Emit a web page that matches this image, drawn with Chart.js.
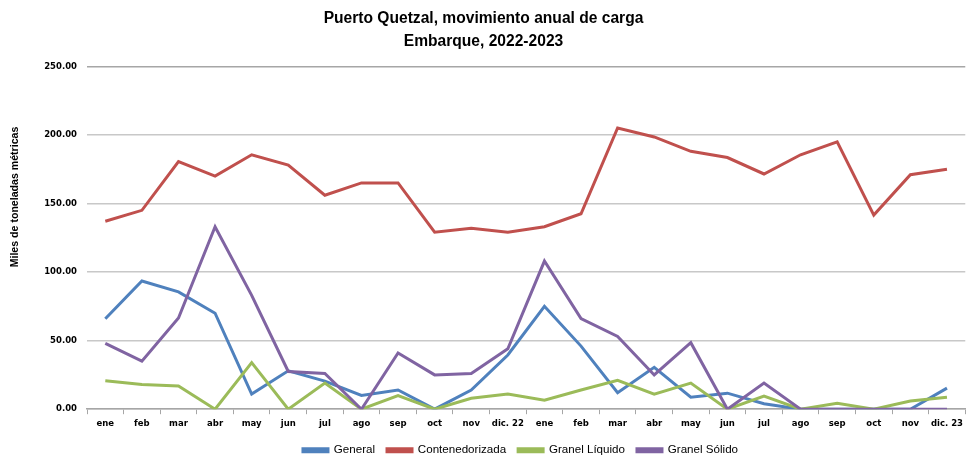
<!DOCTYPE html>
<html>
<head>
<meta charset="utf-8">
<script src="https://cdn.jsdelivr.net/npm/chart.js@4"></script>
<style>
  html, body { margin: 0; padding: 0; background: #fff; }
  #wrap { width: 967px; height: 457px; }
</style>
</head>
<body>
<div id="wrap"><canvas id="myChart" width="967" height="457"></canvas></div>
<script>
// Month labels, 2022 then 2023
const months = [
  "ene", "feb", "mar", "abr", "may", "jun", "jul", "ago", "sep", "oct", "nov", "dic. 22",
  "ene", "feb", "mar", "abr", "may", "jun", "jul", "ago", "sep", "oct", "nov", "dic. 23",
];

// Miles de toneladas métricas
const general = [66, 93.5, 85.5, 70, 11, 28, 20.5, 10, 14, 0, 14, 39.5,
  75, 46, 12, 30.5, 8.8, 11.7, 4, 0, 0, 0, 0, 15.4];
const contenedorizada = [137, 145, 180.5, 170, 185.5, 178, 156, 165, 165, 129, 132, 129,
  133, 142.5, 205, 198.5, 188, 183.5, 171.5, 185.5, 195, 141.5, 171, 175];
const granelLiquido = [20.8, 18, 17, 0, 34, 0, 19, 0, 10, 0, 8, 11,
  6.5, 14, 21, 11, 19, 0, 9.5, 0, 4.4, 0, 6, 8.7];
const granelSolido = [48, 35, 66.5, 133, 83, 27.5, 26, 0, 41, 25, 26, 44,
  108, 66, 53, 25, 48.5, 0, 19, 0, 0, 0, 0, 0];

const yTicks = [0, 50, 100, 150, 200, 250];
const yTitle = "Miles de toneladas métricas";

const seriesColors = {
  general: "#4F81BD",
  contenedorizada: "#C0504D",
  liquido: "#9BBB59",
  solido: "#8064A2",
};

Chart.defaults.font.family = "'Liberation Sans', Arial, sans-serif";
Chart.defaults.color = "#000";

// order: later series are drawn on top, like the original
function makeDataset(label, data, color, order) {
  return {
    label: label,
    data: data,
    borderColor: color,
    backgroundColor: color,
    borderWidth: 3,
    pointRadius: 0,
    tension: 0,
    order: order,
  };
}

const ctx = document.getElementById("myChart");
const chart = new Chart(ctx, {
  type: "line",
  data: {
    labels: months,
    datasets: [
      makeDataset("General", general, seriesColors.general, 4),
      makeDataset("Contenedorizada", contenedorizada, seriesColors.contenedorizada, 3),
      makeDataset("Granel Líquido", granelLiquido, seriesColors.liquido, 2),
      makeDataset("Granel Sólido", granelSolido, seriesColors.solido, 1),
    ],
  },
  options: {
    responsive: false,
    animation: false,
    layout: { padding: { left: 0, right: 0, top: 6, bottom: -9 } },
    scales: {
      x: {
        offset: true,
        grid: {
          offset: true,
          drawOnChartArea: false,
          drawTicks: true,
          tickLength: 5,
          color: "#a6a6a6",
        },
        border: { display: true, color: "#a6a6a6", width: 1.5 },
        ticks: {
          autoSkip: false,
          maxRotation: 0,
          padding: 4,
          font: { family: "'DejaVu Sans', Verdana, sans-serif", size: 8.5, weight: "bold" },
        },
      },
      y: {
        min: 0,
        max: 250,
        afterBuildTicks(scale) {
          scale.ticks = yTicks.map((v) => ({ value: v }));
        },
        afterFit(scale) {
          scale.width = 87;
        },
        border: { display: false },
        grid: {
          drawTicks: false,
          lineWidth: 1.5,
          color: (c) => (c.tick && c.tick.value === 250 ? "#a6a6a6" : "#c8c8c8"),
        },
        ticks: {
          padding: 10,
          callback: (v) => Number(v).toFixed(2),
          font: { family: "'DejaVu Sans', Verdana, sans-serif", size: 8.5, weight: "bold" },
        },
      },
    },
    plugins: {
      title: {
        display: true,
        text: ["Puerto Quetzal, movimiento anual de carga", "Embarque, 2022-2023"],
        font: { size: 15.6, weight: "bold", lineHeight: 1.42 },
        padding: { top: 2, bottom: 14 },
      },
      legend: {
        display: true,
        position: "bottom",
        labels: {
          boxWidth: 25,
          boxHeight: 3,
          padding: 12,
          font: { size: 11.6 },
          // keep legend in dataset order despite the drawing order
          sort: (a, b) => a.datasetIndex - b.datasetIndex,
        },
      },
      tooltip: { enabled: false },
    },
  },
  plugins: [
    {
      // the original legend sits a bit right of centre
      id: "legend_shift",
      afterLayout(chart) {
        chart.legend.left += 37;
        chart.legend.right += 37;
      },
    },
    {
      // y axis title, placed higher than the axis centre like the original
      id: "y_title",
      afterDraw(chart) {
        const c = chart.ctx;
        c.save();
        c.translate(15, 197);
        c.rotate(-Math.PI / 2);
        c.font = "bold 10.6px 'Liberation Sans', Arial, sans-serif";
        c.fillStyle = "#000";
        c.textAlign = "center";
        c.textBaseline = "middle";
        c.fillText(yTitle, 0, 0);
        c.restore();
      },
    },
  ],
});
</script>
</body>
</html>
